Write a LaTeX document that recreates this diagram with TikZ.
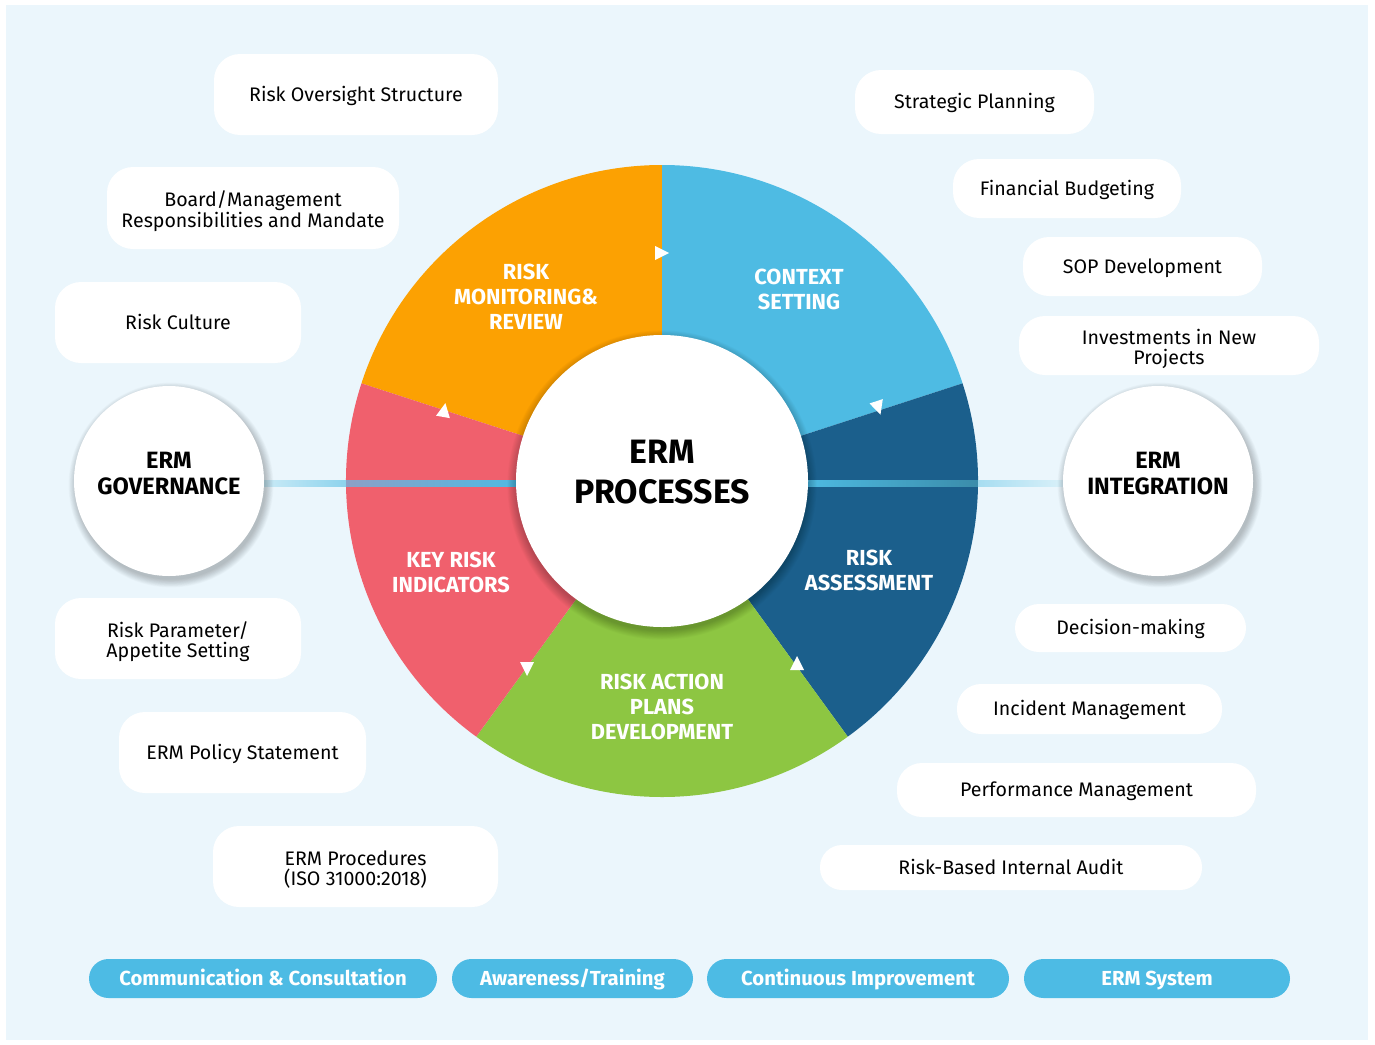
\documentclass[tikz,border=0pt]{standalone}
\usepackage{fontspec}
\setmainfont{Fira Sans}
\definecolor{bg}{HTML}{EBF6FC}
\definecolor{corange}{HTML}{FCA102}
\definecolor{cblue}{HTML}{4EBBE3}
\definecolor{cdark}{HTML}{1B5F8C}
\definecolor{cgreen}{HTML}{8DC642}
\definecolor{cred}{HTML}{F0606D}
\definecolor{pillc}{HTML}{4DBBE4}
\definecolor{lineover}{HTML}{8CA0C6}
\tikzset{
  box/.style={fill=white, rounded corners=#1, align=center, inner sep=0pt,
    font=\fontsize{19.6}{20.5}\selectfont, text=black, text height=16.5pt, text depth=2.7pt},
  box/.default=26pt,
  boxtwo/.style={fill=white, rounded corners=26pt, align=center, inner sep=0pt,
    font=\fontsize{19.6}{20.5}\selectfont, text=black, text height=38.5pt, text depth=0pt},
  pillbox/.style={fill=pillc, rounded corners=19.5pt, minimum height=39pt, inner sep=0pt,
    text=white, font=\bfseries\fontsize{20.3}{21}\selectfont, text height=17pt, text depth=3pt},
  seglabel/.style={align=center, text=white, font=\bfseries\fontsize{21.8}{25}\selectfont},
  bigcircle/.style={circle, fill=white, inner sep=0pt},
  circlabel/.style={align=center, text=black, font=\bfseries\fontsize{23.6}{26}\selectfont},
  tri/.style={fill=white},
  softshadow/.style={fill=black, opacity=0.019}
}
\begin{document}
\begin{tikzpicture}[x=1pt, y=-1pt]
\useasboundingbox (0,0) rectangle (1375,1044);
\fill[bg] (6,5) rectangle (1368,1040);

% ring sectors
\begin{scope}[shift={(662,481)}, x=1pt, y=1pt]
  \fill[corange] (0,0) -- (90:316) arc[start angle=90, end angle=162, radius=316] -- cycle;
  \fill[cblue] (0,0) -- (18:316) arc[start angle=18, end angle=90, radius=316] -- cycle;
  \fill[cdark] (0,0) -- (-54:316) arc[start angle=-54, end angle=18, radius=316] -- cycle;
  \fill[cgreen] (0,0) -- (-126:316) arc[start angle=-126, end angle=-54, radius=316] -- cycle;
  \fill[cred] (0,0) -- (162:316) arc[start angle=162, end angle=234, radius=316] -- cycle;
\end{scope}

% connecting line
\shade[left color=white!72!cblue, right color=white!35!cblue] (258,480) rectangle (347,486);
\shade[left color=lineover, right color=cblue] (346,480) rectangle (522,486);
\shade[left color=cblue, right color=cblue!75!black] (802,480) rectangle (978,486);
\shade[left color=white!50!cblue, right color=white!80!cblue] (978,480) rectangle (1068,486);

% triangles
\fill[tri, shift={(661,253)}, rotate=0] (8,0) -- (-6,7) -- (-6,-7) -- cycle;
\fill[tri, shift={(878,407)}, rotate=-72] (8,0) -- (-6,7) -- (-6,-7) -- cycle;
\fill[tri, shift={(797,664)}, rotate=90] (8,0) -- (-6,7) -- (-6,-7) -- cycle;
\fill[tri, shift={(527,668)}, rotate=-90] (8,0) -- (-6,7) -- (-6,-7) -- cycle;
\fill[tri, shift={(444,411)}, rotate=80] (8,0) -- (-6,7) -- (-6,-7) -- cycle;

% soft shadows
\foreach \k in {1,...,12} {
  \fill[softshadow] (662,485) circle[radius={(145+\k*0.8)*1pt}];
  \fill[softshadow] (171,485) circle[radius={(94+\k*0.7)*1pt}];
  \fill[softshadow] (1160,485) circle[radius={(94+\k*0.7)*1pt}];
}

% centre and side circles
\node[bigcircle, minimum size=292pt] (proc) at (662,481) {};
\node[circlabel, font=\bfseries\fontsize{33.8}{40}\selectfont] (proclabel) at (662,472) {ERM\\PROCESSES};
\node[bigcircle, minimum size=190pt] (gov) at (169,481) {};
\node[circlabel] (govlabel) at (169,474) {ERM\\GOVERNANCE};
\node[bigcircle, minimum size=190pt] (integ) at (1158,481) {};
\node[circlabel] (integlabel) at (1158,474) {ERM\\INTEGRATION};

% segment labels
\node[seglabel] (mon) at (526,297) {RISK\\MONITORING\&\\REVIEW};
\node[seglabel] (ctx) at (799,289) {CONTEXT\\SETTING};
\node[seglabel] (assess) at (869,570) {RISK\\ASSESSMENT};
\node[seglabel] (action) at (662,707) {RISK ACTION\\PLANS\\DEVELOPMENT};
\node[seglabel] (kri) at (451,572) {KEY RISK\\INDICATORS};

% left boxes
\node[box, minimum width=284pt, minimum height=81pt] (ros) at (356,94.5) {Risk Oversight Structure};
\node[boxtwo, minimum width=292pt, minimum height=82pt] (board) at (253,208) {Board/Management\\Responsibilities and Mandate};
\node[box, minimum width=246pt, minimum height=81pt] (culture) at (178,322.5) {Risk Culture};
\node[boxtwo, minimum width=246pt, minimum height=81pt] (param) at (178,638.5) {Risk Parameter/\\Appetite Setting};
\node[box, minimum width=247pt, minimum height=81pt] (policy) at (242.5,752.5) {ERM Policy Statement};
\node[boxtwo, minimum width=285pt, minimum height=81pt] (procs) at (355.5,866.5) {ERM Procedures\\(ISO 31000:2018)};

% right boxes
\node[box=26pt, minimum width=239pt, minimum height=64pt] (strat) at (974.5,102) {Strategic Planning};
\node[box=26pt, minimum width=228pt, minimum height=59pt] (fin) at (1067,188.5) {Financial Budgeting};
\node[box=26pt, minimum width=239pt, minimum height=59pt] (sop) at (1142.5,266.5) {SOP Development};
\node[boxtwo, minimum width=300pt, minimum height=59pt] (inv) at (1169,345.5) {Investments in New\\Projects};
\node[box=24pt, minimum width=231pt, minimum height=48pt] (dec) at (1130.5,628) {Decision-making};
\node[box=24pt, minimum width=265pt, minimum height=50pt] (inc) at (1089.5,709) {Incident Management};
\node[box=25pt, minimum width=359pt, minimum height=54pt] (perf) at (1076.5,790) {Performance Management};
\node[box=22pt, minimum width=382pt, minimum height=45pt] (audit) at (1011,867.5) {Risk-Based Internal Audit};

% bottom pills
\node[pillbox, minimum width=348pt] (comm) at (263,978.5) {Communication \& Consultation};
\node[pillbox, minimum width=241pt] (aware) at (572.5,978.5) {Awareness/Training};
\node[pillbox, minimum width=302pt] (cont) at (858,978.5) {Continuous Improvement};
\node[pillbox, minimum width=266pt] (sys) at (1157,978.5) {ERM System};
\end{tikzpicture}
\end{document}
